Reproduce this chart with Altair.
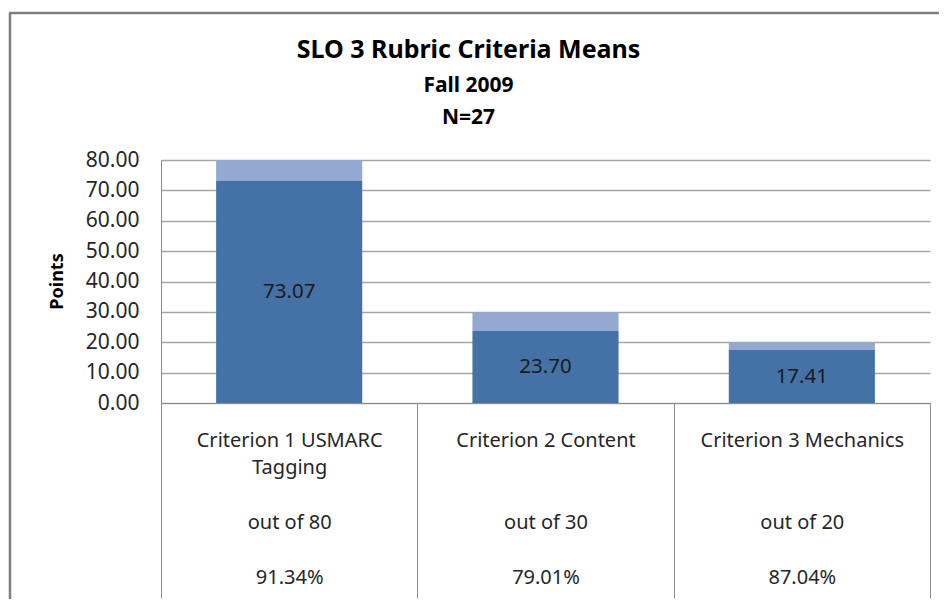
import altair as alt
import pandas as pd

# ---- data ----
criteria_line1 = ["Criterion 1 USMARC", "Criterion 2 Content", "Criterion 3 Mechanics"]
criteria_line2 = ["Tagging", "", ""]
max_points = [80, 30, 20]
means = [73.07, 23.70, 17.41]
percents = ["91.34%", "79.01%", "87.04%"]
y_ticks = [0, 10, 20, 30, 40, 50, 60, 70, 80]

FONT = "Noto Sans"
DARK = "#4472A6"
LIGHT = "#93A9D1"
GRAY = "#8C8C8C"
ZW = "\u200b"  # zero-width space keeps blank label lines

# category labels: lines separated by '|'
cats = [
    f"{a}|{b or ZW}|{ZW}|out of {m}|{ZW}|{p}"
    for a, b, m, p in zip(criteria_line1, criteria_line2, max_points, percents)
]

rows = []
for c, m, mx in zip(cats, means, max_points):
    rows.append({"cat": c, "segment": "Mean", "value": m, "order": 0})
    rows.append({"cat": c, "segment": "Remaining", "value": round(mx - m, 2), "order": 1})
bars_df = pd.DataFrame(rows)
labels_df = pd.DataFrame({"cat": cats, "mean": means})

x_scale = alt.Scale(paddingInner=0, paddingOuter=0)
x_axis = alt.Axis(
    title=None,
    labelAngle=0,
    labelExpr="split(datum.label, '|')",
    labelLineHeight=27.4,
    labelFont=FONT,
    labelFontSize=20,
    labelColor="#262626",
    labelLimit=400,
    labelBaseline="top",
    labelPadding=-168,
    labelOverlap=False,
    ticks=True,
    tickBand="extent",
    tickSize=195,
    tickColor=GRAY,
    tickWidth=1,
    domainColor=GRAY,
    domainWidth=1,
    grid=False,
)

y_scale = alt.Scale(domain=[0, 80], nice=False)
y_axis = alt.Axis(
    title="Points",
    values=y_ticks,
    format=".2f",
    labelOverlap=False,
    grid=True,
    gridColor="#A6A6A6",
    gridWidth=1.4,
    ticks=False,
    labelPadding=22,
    labelFont=FONT,
    labelFontSize=21,
    labelColor="#262626",
    domainColor=GRAY,
    domainWidth=1,
    titleFont=FONT,
    titleFontSize=18,
    titleFontWeight="bold",
    titleColor="#000000",
    titleX=-104,
    titleY=121,
    titleAngle=270,
    titleBaseline="middle",
    titleAlign="center",
)

bars = alt.Chart(bars_df).mark_bar(width={"band": 0.57}).encode(
    x=alt.X("cat:N", sort=cats, scale=x_scale, axis=x_axis),
    y=alt.Y("value:Q", stack="zero", scale=y_scale, axis=y_axis),
    color=alt.Color(
        "segment:N",
        scale=alt.Scale(domain=["Mean", "Remaining"], range=[DARK, LIGHT]),
        legend=None,
    ),
    order=alt.Order("order:Q"),
)

text = alt.Chart(labels_df).transform_calculate(mid="datum.mean / 2").mark_text(
    font=FONT, fontSize=20.5, color="#1A1A1A", baseline="middle", align="center"
).encode(
    x=alt.X("cat:N", sort=cats, scale=x_scale, axis=x_axis),
    y=alt.Y("mid:Q", scale=y_scale, axis=y_axis),
    text=alt.Text("mean:Q", format=".2f"),
)

frame_df = pd.DataFrame({"k": [0]})
frame_left = alt.Chart(frame_df).mark_rule(color="#7F7F7F", strokeWidth=2.5).encode(
    x=alt.value(-151), y=alt.value(-147), y2=alt.value(460)
)
frame_top = alt.Chart(frame_df).mark_rule(color="#7F7F7F", strokeWidth=2.5).encode(
    x=alt.value(-152), x2=alt.value(800), y=alt.value(-147)
)

chart = alt.layer(bars, text, frame_left, frame_top).properties(
    width=769,
    height=243,
    padding={"left": 153, "top": 152, "right": 9, "bottom": 196},
    autosize=alt.AutoSizeParams(type="none"),
    title=alt.TitleParams(
        text="SLO 3 Rubric Criteria Means",
        subtitle=["Fall 2009", "N=27"],
        font=FONT,
        fontSize=25,
        fontWeight="bold",
        color="#000000",
        subtitleFont=FONT,
        subtitleFontSize=21,
        subtitleFontWeight="bold",
        subtitleColor="#000000",
        subtitleLineHeight=32,
        subtitlePadding=12,
        anchor="middle",
        frame="group",
        dx=-77,
        offset=-116,
    ),
).configure_view(stroke=None)

chart.save("out.html", embed_options={"renderer": "svg", "actions": False})
